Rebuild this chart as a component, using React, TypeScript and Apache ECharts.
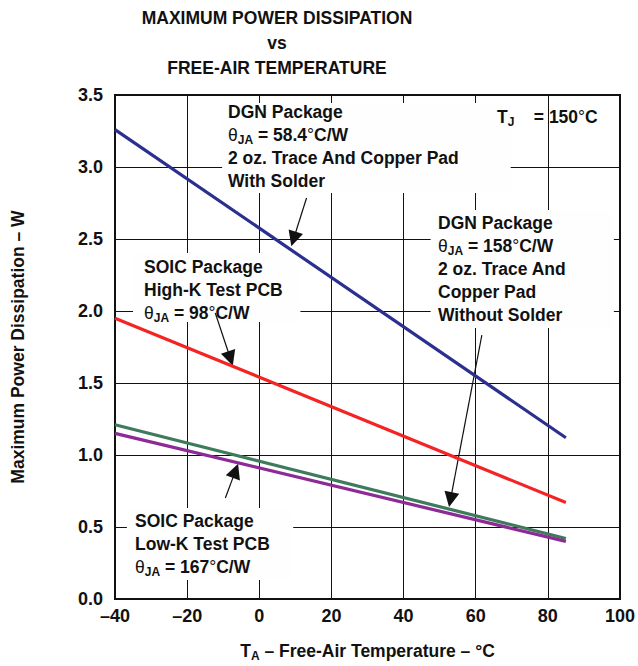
import React, { useEffect, useRef } from "react";
import * as echarts from "echarts";

const temps = [-40, 85];
const dgnWithSolder = [3.26, 1.12];
const soicHighK = [1.95, 0.67];
const dgnWithoutSolder = [1.21, 0.42];
const soicLowK = [1.15, 0.4];

const arrowTails = [
  [13.1, 2.785],
  [-12.2, 1.986],
  [61.7, 1.833],
  [-9.4, 0.701],
];
const arrowHeads = [
  [9.5, 2.5],
  [-8.0, 1.67],
  [53.0, 0.69],
  [-6.6, 0.89],
];

// white boxes behind the annotation texts: [xFrom, yFrom, xTo, yTo] in data units
const labelBoxes = [
  [-10.3, 3.444, 69.7, 2.819],
  [47.5, 2.701, 98.3, 1.882],
  [-35, 2.403, 11.4, 1.924],
  [-36.7, 0.632, 9.4, 0.132],
];

const FONT = '"Liberation Sans", Arial, Helvetica, sans-serif';
const FS = 17.5;
const BOX = "#fefefe";

const rich = {
  b: { fontFamily: FONT, fontSize: FS, fontWeight: "bold", lineHeight: 23, color: "#111" },
  t: { fontFamily: FONT, fontSize: FS, fontWeight: "normal", lineHeight: 23, color: "#111" },
  s: { fontFamily: FONT, fontSize: 12, fontWeight: "bold", lineHeight: 14, verticalAlign: "bottom", color: "#111" },
};

function block(x: number, y: number, text: string) {
  return {
    type: "text",
    x,
    y,
    z: 200,
    style: { text, rich, fill: "#111", font: `bold ${FS}px ${FONT}`, lineHeight: 23 },
  };
}

function pairs(xs: number[], ys: number[]) {
  return xs.map((x, i) => [x, ys[i]]);
}

export default function App() {
  const ref = useRef<HTMLDivElement>(null);
  useEffect(() => {
    const chart = echarts.init(ref.current!, null, { renderer: "svg" });
    const lineSeries = (name: string, ys: number[], color: string) => ({
      type: "line",
      name,
      data: pairs(temps, ys),
      showSymbol: false,
      symbol: "none",
      lineStyle: { color, width: 3.2 },
      z: 10,
    });
    chart.setOption({
      animation: false,
      backgroundColor: "#fff",
      grid: { left: 115, right: 18, top: 95, bottom: 67, containLabel: false, outerBoundsMode: "none", show: true, borderColor: "#111", borderWidth: 2 },
      xAxis: {
        type: "value",
        min: -40,
        max: 100,
        interval: 20,
        axisLine: { show: true, onZero: false, lineStyle: { color: "#111", width: 2 } },
        axisTick: { show: false },
        splitLine: { show: true, lineStyle: { color: "#111", width: 1 } },
        axisLabel: {
          margin: 8,
          color: "#111",
          fontFamily: FONT,
          fontSize: 18,
          fontWeight: "bold",
          formatter: (v: number) => (v < 0 ? "\u2013" + -v : String(v)),
        },
        name: "{b|T}{s|A}{b| \u2013 Free-Air Temperature \u2013 °C}",
        nameLocation: "middle",
        nameGap: 40,
        nameTextStyle: { rich },
      },
      yAxis: {
        type: "value",
        min: 0,
        max: 3.5,
        interval: 0.5,
        axisLine: { show: true, onZero: false, lineStyle: { color: "#111", width: 2 } },
        axisTick: { show: false },
        splitLine: { show: true, lineStyle: { color: "#111", width: 1 } },
        axisLabel: {
          margin: 12,
          color: "#111",
          fontFamily: FONT,
          fontSize: 18,
          fontWeight: "bold",
          formatter: (v: number) => v.toFixed(1),
        },
        name: "Maximum Power Dissipation \u2013 W",
        nameLocation: "middle",
        nameRotate: 90,
        nameGap: 88,
        nameTextStyle: { color: "#111", fontFamily: FONT, fontSize: FS, fontWeight: "bold" },
      },
      series: [
        {
          type: "line",
          name: "label boxes",
          data: pairs(temps, soicLowK),
          showSymbol: false,
          symbol: "none",
          lineStyle: { opacity: 0, width: 0 },
          z: 5,
          markArea: {
            silent: true,
            itemStyle: { color: BOX, opacity: 1, borderWidth: 0 },
            label: { show: false },
            data: labelBoxes.map((b) => [
              { xAxis: b[0], yAxis: b[1] },
              { xAxis: b[2], yAxis: b[3] },
            ]),
          },
        },
        lineSeries("DGN with solder", dgnWithSolder, "#2B2F8E"),
        lineSeries("SOIC High-K", soicHighK, "#F42424"),
        lineSeries("DGN without solder", dgnWithoutSolder, "#3D7B5C"),
        {
          ...lineSeries("SOIC Low-K", soicLowK, "#8E2A96"),
          markLine: {
            silent: true,
            symbol: ["none", "triangle"],
            symbolSize: 15,
            label: { show: false },
            lineStyle: { color: "#111", width: 1.2, type: "solid" },
            data: arrowTails.map((t, i) => [{ coord: t }, { coord: arrowHeads[i] }]),
          },
        },
      ],
      graphic: [
        {
          type: "text",
          x: 277,
          y: 5,
          z: 200,
          style: {
            text: "MAXIMUM POWER DISSIPATION\nvs\nFREE-AIR TEMPERATURE",
            font: `bold ${FS}px ${FONT}`,
            fill: "#111",
            align: "center",
            lineHeight: 25,
          },
        },
        block(228, 100, "{b|DGN Package}\n{t|θ}{s|JA}{b| = 58.4}{t|°}{b|C/W}\n{b|2 oz. Trace And Copper Pad}\n{b|With Solder}"),
        block(497, 105, "{b|T}{s|J}{b|    = 150}{t|°}{b|C}"),
        block(438, 211, "{b|DGN Package}\n{t|θ}{s|JA}{b| = 158}{t|°}{b|C/W}\n{b|2 oz. Trace And}\n{b|Copper Pad}\n{b|Without Solder}"),
        block(144, 255, "{b|SOIC Package}\n{b|High-K Test PCB}\n{t|θ}{s|JA}{b| = 98}{t|°}{b|C/W}"),
        block(135, 509, "{b|SOIC Package}\n{b|Low-K Test PCB}\n{t|θ}{s|JA}{b| = 167}{t|°}{b|C/W}"),
      ],
    });
    return () => chart.dispose();
  }, []);
  return (
    <div
      ref={ref}
      style={{ position: "fixed", left: 0, top: 0, width: 638, height: 666, background: "#fff" }}
    />
  );
}
